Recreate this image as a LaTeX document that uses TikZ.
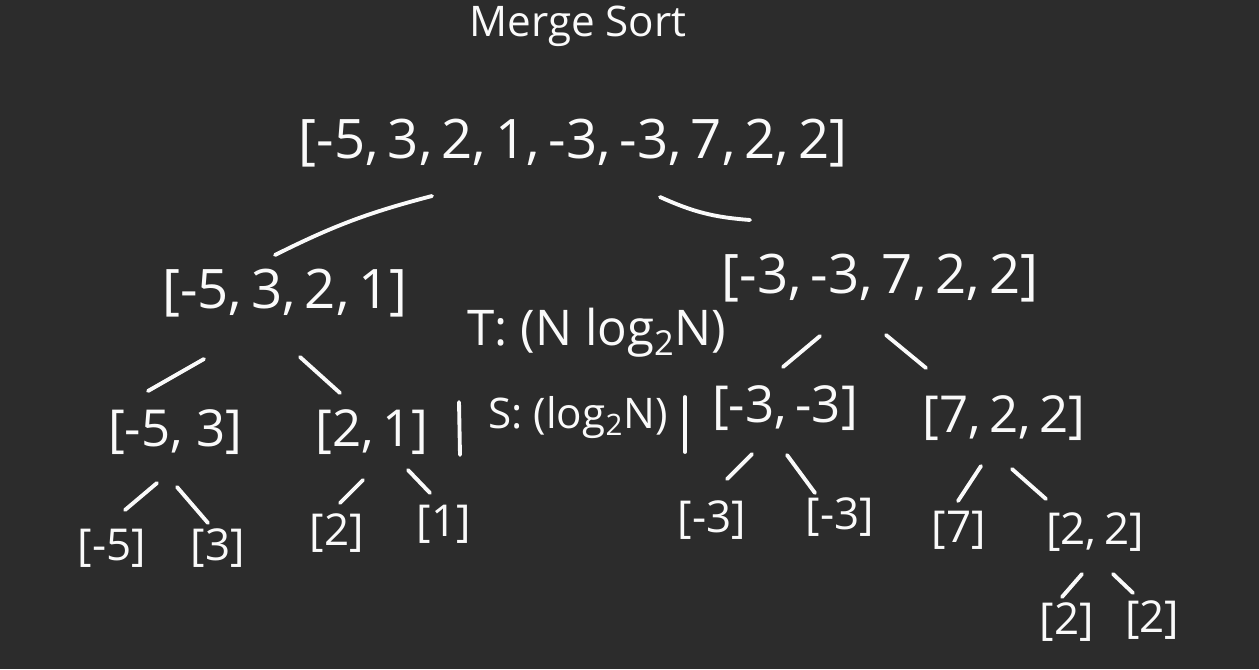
\documentclass[tikz,border=0pt]{standalone}
\usepackage{fontspec}
\setmainfont{Open Sans}
\usetikzlibrary{calc}
\definecolor{board}{RGB}{44,44,44}
\definecolor{chalk}{RGB}{250,250,250}

\begin{document}
\begin{tikzpicture}[x=0.2mm, y=-0.2mm, text=chalk,
  lst/.style={inner sep=0pt, font=\fontsize{31}{36}\selectfont},
  leaf/.style={inner sep=0pt, font=\fontsize{25}{30}\selectfont},
  cost/.style={inner sep=0pt, font=\fontsize{28}{33}\selectfont},
  edge/.style={draw=chalk, line width=2.2pt, line cap=round}]
\fill[board] (0,0) rectangle (1259,669);
\useasboundingbox (0,0) rectangle (1259,669);
\node[inner sep=0pt, font=\fontsize{24}{29}\selectfont] (title) at (578,26) {Merge Sort};
% root and first split
\node[lst] (root) at (573,143) {[-5,\,3,\,2,\,1,\,-3,\,-3,\,7,\,2,\,2]};
\node[lst] (l) at (285,293) {[-5,\,3,\,2,\,1]};
\node[lst] (r) at (880,278) {[-3,\,-3,\,7,\,2,\,2]};
\draw[edge] ($(root)+(-141,53)$) to[bend right=6] ($(l)+(-10,-38)$);
\draw[edge] ($(root)+(87,54)$) to[bend right=10] ($(r)+(-130,-58)$);
% costs
\node[cost] (t) at (597,333) {T: (N log\textsubscript{2}N)};
\node[cost, font=\fontsize{24}{29}\selectfont] (s) at (578,418) {S: (log\textsubscript{2}N)};
\draw[edge] ($(s)+(-119,-16)$) -- ($(s)+(-118,37)$);
\draw[edge] ($(s)+(107,-21)$) -- ($(s)+(107,34)$);
% second level
\node[lst, font=\fontsize{29}{34}\selectfont] (ll) at (175,432) {[-5, 3]};
\node[lst, font=\fontsize{29}{34}\selectfont] (lr) at (372,432) {[2,\,1]};
\node[lst, font=\fontsize{29}{34}\selectfont] (rl) at (785,408) {[-3,\,-3]};
\node[lst, font=\fontsize{29}{34}\selectfont] (rr) at (1004,418) {[7,\,2,\,2]};
% leaves
\node[leaf] (lll) at (112,548) {[-5]};
\node[leaf] (llr) at (218,548) {[3]};
\node[leaf] (lrl) at (337,533) {[2]};
\node[leaf] (lrr) at (444,524) {[1]};
\node[leaf] (rll) at (712,520) {[-3]};
\node[leaf] (rlr) at (840,517) {[-3]};
\node[leaf] (rrl) at (959,530) {[7]};
\node[leaf] (rrr) at (1095,532) {[2,\,2]};
\node[leaf] (rrrl) at (1067,622) {[2]};
\node[leaf] (rrrr) at (1152,620) {[2]};
\foreach \p/\px/\py/\c/\cx/\cy in {
    l/-81/66/ll/-27/-41, l/15/64/lr/-32/-39,
    r/-60/58/rl/-2/-41, r/6/57/rr/-78/-50,
    ll/-18/51/lll/13/-38, ll/2/55/llr/-10/-25,
    lr/-9/48/lrl/3/-30, lr/36/38/lrr/-14/-31,
    rl/-33/46/rll/15/-41, rl/2/47/rlr/-25/-24,
    rr/-23/48/rrl/-1/-29, rr/8/51/rrr/-49/-33,
    rrr/-13/42/rrrl/-5/-25, rrr/18/42/rrrr/-19/-27}
  {\draw[edge] ($(\p)+(\px,\py)$) -- ($(\c)+(\cx,\cy)$);}
\end{tikzpicture}
\end{document}
